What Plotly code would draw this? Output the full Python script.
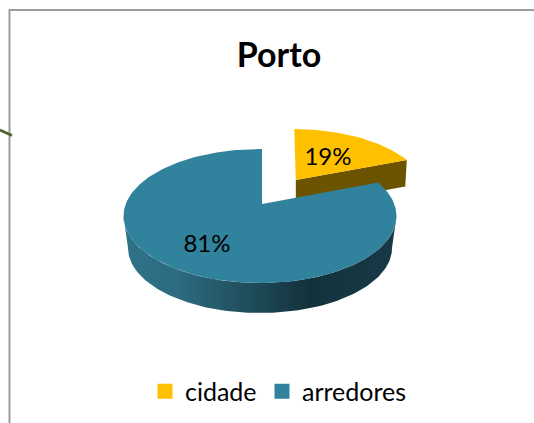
import numpy as np
import plotly.graph_objects as go

categories = ["cidade", "arredores"]
percent_values = [19, 81]
category_colors = ["#FFC000", "#31829C"]
chart_title = "Porto"

FONT = "Lato"
W, H = 534, 423

# disc projection (pixel space of the hidden axes)
CX, CY, RX, RY = 260.0, 216.0, 136.5, 67.0
K = 0.18          # perspective: disc centre moves towards the back
ROT = 1.0         # degrees
APEX_DX = 2.0


def project(theta_deg):
    t = np.radians(np.asarray(theta_deg, dtype=float) + ROT)
    u, v = np.sin(t), np.cos(t)
    d = 1 + K * v
    x = CX + RX * u * np.sqrt(1 - K ** 2) / d
    y = CY - RY * (v + K) / d
    return x, y


apex = (CX + APEX_DX, CY - RY * K)
frac = np.array(percent_values, dtype=float) / sum(percent_values) * 360

# exploded slice
EXPL_APEX = (295.8, 180.0)
SX, SY = 0.96, 0.93
th0 = np.linspace(0, frac[0], 60)
ax0, ay0 = project(th0)
y0 = EXPL_APEX[1] + (ay0 - apex[1]) * SY
x0 = EXPL_APEX[0] + (ax0 - apex[0]) * SX + (y0 - EXPL_APEX[1]) * 0.03
DEPTH0 = 26.5
wall_x = [EXPL_APEX[0], x0[-1], x0[-1] - 1.5, EXPL_APEX[0], EXPL_APEX[0]]
wall_y = [EXPL_APEX[1], y0[-1], y0[-1] + DEPTH0, EXPL_APEX[1] + DEPTH0, EXPL_APEX[1]]

# main slice
th1 = np.linspace(frac[0], 360, 240)
ax1, ay1 = project(th1)
x1 = np.r_[apex[0], ax1, apex[0]]
y1 = np.r_[apex[1], ay1, apex[1]]

# side band under the main slice
phi = np.linspace(0, np.pi, 120)
top_x, top_y = CX + RX * np.cos(phi), CY + RY * np.sin(phi)
BCX, BCY, BRX, BRY = 260.0, 248.0, 132.0, 65.0
bot_x, bot_y = BCX + BRX * np.cos(phi), BCY + BRY * np.sin(phi)
band_x = np.r_[top_x, bot_x[::-1], top_x[0]]
band_y = np.r_[top_y, bot_y[::-1], top_y[0]]

fig = go.Figure()

fig.add_trace(go.Scatter(x=wall_x, y=wall_y, mode="lines", line=dict(width=0),
                         fill="toself", fillcolor="#6B5300", showlegend=False, hoverinfo="skip"))
fig.add_trace(go.Scatter(x=np.r_[EXPL_APEX[0], x0, EXPL_APEX[0]], y=np.r_[EXPL_APEX[1], y0, EXPL_APEX[1]],
                         mode="lines", line=dict(width=0), fill="toself", fillcolor=category_colors[0],
                         showlegend=False, name=categories[0]))
fig.add_trace(go.Scatter(x=band_x, y=band_y, mode="lines", line=dict(width=0), fill="toself",
                         fillgradient=dict(type="horizontal", colorscale=[
                             [0.0, "#2F7389"], [0.2, "#2C6B80"], [0.45, "#1F4E5D"],
                             [0.68, "#14323C"], [1.0, "#173946"]]),
                         showlegend=False, hoverinfo="skip"))
fig.add_trace(go.Scatter(x=x1, y=y1, mode="lines", line=dict(width=0), fill="toself",
                         fillcolor=category_colors[1], showlegend=False, name=categories[1]))

# percentage labels
fig.add_trace(go.Scatter(x=[328, 207], y=[159, 246], mode="text",
                         text=[f"{v}%" for v in percent_values],
                         textfont=dict(family=FONT, size=24, color="#000000"),
                         textposition="middle center", showlegend=False, hoverinfo="skip"))

# legend entries, each in its own legend box
legend_ids = ["legend", "legend2"]
for name, col, lid in zip(categories, category_colors, legend_ids):
    fig.add_trace(go.Scatter(x=[None], y=[None], mode="markers", name=name, legend=lid,
                             marker=dict(symbol="square", size=15, color=col)))

FRAME = "#9C9C9C"
shapes = [
    dict(type="line", xref="x", yref="y", x0=9.5, x1=9.5, y0=9, y1=H, line=dict(color=FRAME, width=2)),
    dict(type="line", xref="x", yref="y", x0=9, x1=W, y0=10, y1=10, line=dict(color=FRAME, width=2)),
    dict(type="line", xref="x", yref="y", x0=0, x1=12, y0=130, y1=135.5, line=dict(color="#4F6228", width=2.5)),
]


def legend_box(left):
    return dict(x=left / W, xanchor="left", y=1 - 391.5 / H, yanchor="middle",
                font=dict(family=FONT, size=25, color="#000000"), bgcolor="rgba(0,0,0,0)",
                itemsizing="trace", itemclick=False, itemdoubleclick=False)


fig.update_layout(
    width=W, height=H, autosize=False,
    margin=dict(l=0, r=0, t=0, b=0),
    paper_bgcolor="white", plot_bgcolor="white",
    xaxis=dict(range=[0, W], visible=False, fixedrange=True),
    yaxis=dict(range=[H, 0], visible=False, fixedrange=True),
    shapes=shapes,
    title=dict(text=f"<b>{chart_title}</b>", x=279 / W, xanchor="center", y=1 - 55 / H, yanchor="middle",
               font=dict(family=FONT, size=34, color="#000000")),
    legend=legend_box(145),
    legend2=legend_box(262),
    showlegend=True,
)

fig.write_html("out.html", config=dict(displayModeBar=False),
               post_script="document.body.style.margin='0';")
